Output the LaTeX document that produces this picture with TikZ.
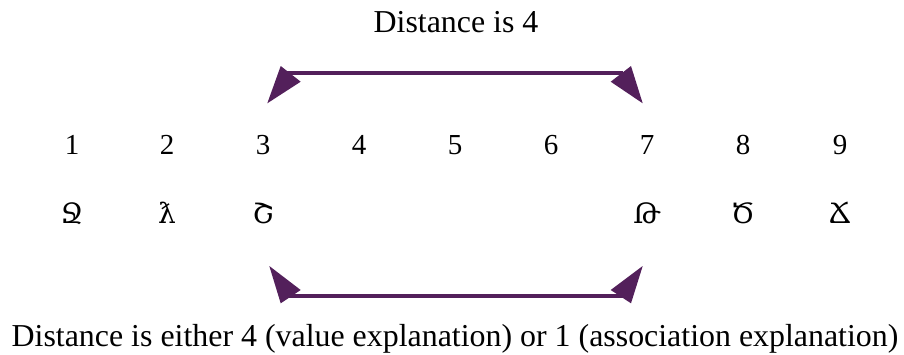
\documentclass[tikz,border=0pt]{standalone}
\usepackage{fontspec}
\setmainfont{Liberation Serif}
\newfontfamily\armfont[Script=Armenian]{DejaVu Serif}
\definecolor{arrowpurple}{RGB}{83,32,91}
\tikzset{
  lbl/.style={anchor=base, inner sep=0pt, font=\fontsize{31.9}{36}\selectfont},
  num/.style={anchor=base, inner sep=0pt, font=\fontsize{29}{34}\selectfont},
  sym/.style={anchor=base, inner sep=0pt, font=\armfont\fontsize{28}{32}\selectfont},
  shaft/.style={draw=arrowpurple, line width=3.3pt},
  head/.style={fill=arrowpurple, draw=none},
}
\begin{document}
\begin{tikzpicture}[x=1pt,y=-1pt]
\useasboundingbox (0,0) rectangle (904,354);
% texts
\node[lbl] (top) at (456,32.3) {Distance is 4};
\node[lbl] (bottom) at (455,346) {Distance is either 4 (value explanation) or 1 (association explanation)};
% numbers
\foreach \i/\x in {1/72,2/167,3/263,4/359,5/455,6/551,7/647,8/743,9/840}{
  \node[num] (n\i) at (\x,154) {\i};
}
% symbols
\node[sym] (s1) at (72,223.5) {Ջ};
\node[sym] (s2) at (167,223.5) {ƛ};
\node[sym] (s3) at (263,223.5) {Շ};
\node[sym] (s7) at (647,223.5) {Թ};
\node[sym] (s8) at (743,223.5) {Ծ};
\node[sym] (s9) at (840,223.5) {Ճ};
% top arrow
\coordinate (ta) at (287,73);
\coordinate (tb) at (623,73);
\draw[shaft] (ta) -- (tb);
\fill[head] (267.3,103.3) -- (280.7,66) -- (300.7,81.7) -- cycle;
\fill[head] (642.7,103.3) -- (631,66) -- (610.7,81.7) -- cycle;
% bottom arrow
\coordinate (ba) at (287,296);
\coordinate (bb) at (623,296);
\draw[shaft] (ba) -- (bb);
\fill[head] (269.3,266) -- (300.7,290) -- (280.7,303.3) -- cycle;
\fill[head] (642.7,266) -- (610.7,290) -- (631,303.3) -- cycle;
\end{tikzpicture}
\end{document}
